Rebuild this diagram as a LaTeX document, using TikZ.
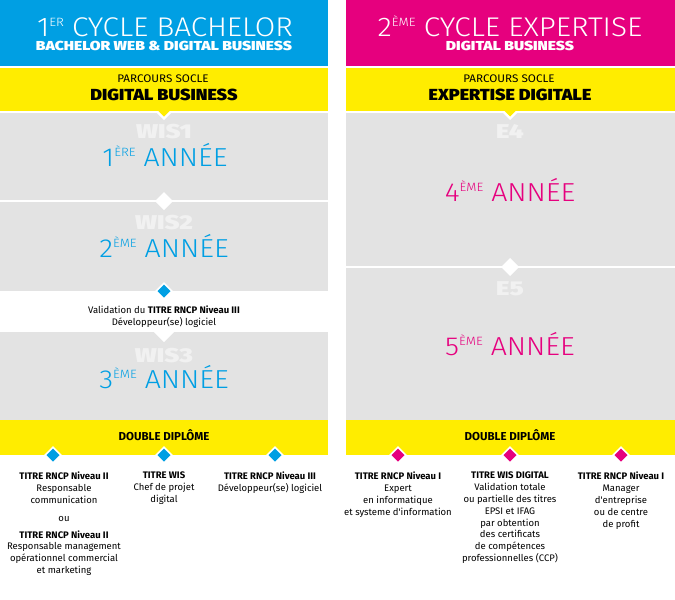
\documentclass[tikz,border=0pt]{standalone}
\usepackage{fontspec}
\setmainfont{Fira Sans}
\newfontfamily\flight{Fira Sans Light}[FakeStretch=1.1]
\newfontfamily\fregw{Fira Sans}[FakeStretch=1.06]
\newfontfamily\fblacka{Fira Sans Black}[FakeStretch=1.2]
\newfontfamily\fblackb{Fira Sans Black}[FakeStretch=1.12]
\newfontfamily\fblackc{Fira Sans Black}[FakeStretch=1.28]
\definecolor{cblue}{HTML}{009FE3}
\definecolor{cpink}{HTML}{E6007E}
\definecolor{cyel}{HTML}{FFED00}
\definecolor{cgray}{HTML}{E3E3E3}
\definecolor{wmgray}{HTML}{F1F1F1}
\newcommand\hsup[2]{\raisebox{#1}{\fontsize{12}{12}\selectfont #2}}
\newcommand\dmd[3]{%
  \fill[white] (#1-9,#2)--(#1,#2-9)--(#1+9,#2)--(#1,#2+9)--cycle;
  \fill[#3] (#1-6.5,#2)--(#1,#2-6.5)--(#1+6.5,#2)--(#1,#2+6.5)--cycle;}
\newcommand\wdmd[2]{%
  \fill[white] (#1-9,#2)--(#1,#2-9)--(#1+9,#2)--(#1,#2+9)--cycle;}
\newcommand\ptr[2]{%
  \fill[white] (#1-9,#2)--(#1+9,#2)--(#1,#2+9)--cycle;
  \fill[cyel] (#1-6.5,#2-1)--(#1+6.5,#2-1)--(#1,#2+5.5)--cycle;}
\tikzset{
 hdr/.style={anchor=base,text=white,font=\flight\fontsize{27}{27}\selectfont,inner sep=0,text depth=0pt},
 hsub/.style={anchor=base,text=white,font=\fblacka\fontsize{13}{13}\selectfont,inner sep=0,text height=9.5pt,text depth=0pt},
 parc/.style={anchor=base,font=\fregw\fontsize{11}{12}\selectfont,inner sep=0},
 socle/.style={anchor=base,font=\fblackb\fontsize{16}{16}\selectfont,inner sep=0},
 wm/.style={anchor=base,text=wmgray,font=\fblackc\fontsize{20}{20}\selectfont,inner sep=0},
 annee/.style={anchor=base,font=\flight\fontsize{26}{26}\selectfont,inner sep=0},
 dd/.style={anchor=base,font=\bfseries\fontsize{11.5}{12}\selectfont,inner sep=0},
 small/.style={anchor=north,align=center,font=\fontsize{9.5}{11.8}\selectfont,inner sep=0},
}
\begin{document}
\begin{tikzpicture}[x=1pt,y=-1pt]
\useasboundingbox[fill=white] (0,0) rectangle (675,600);
% ---------- left column ----------
\fill[cblue] (0,0) rectangle (328,66);
\fill[cyel] (0,68) rectangle (328,111);
\fill[cgray] (0,113) rectangle (328,200);
\fill[cgray] (0,202) rectangle (328,291);
\fill[cgray] (0,332) rectangle (328,420);
\fill[cyel] (0,420) rectangle (328,455);
\ptr{164}{111}
\wdmd{164}{201}
\dmd{164}{291}{cblue}
\fill[white] (154,332)--(174,332)--(164,342)--cycle;
\dmd{53}{455}{cblue}
\dmd{164}{455}{cblue}
\dmd{275}{455}{cblue}
% ---------- right column ----------
\fill[cpink] (346,0) rectangle (675,66);
\fill[cyel] (346,68) rectangle (675,111);
\fill[cgray] (346,113) rectangle (675,266);
\fill[cgray] (346,268) rectangle (675,420);
\fill[cyel] (346,420) rectangle (675,455);
\ptr{510}{111}
\wdmd{510}{267}
\dmd{398}{455}{cpink}
\dmd{510}{455}{cpink}
\dmd{621}{455}{cpink}
% ---------- left texts ----------
\node[hdr] (h1) at (165,36) {1\hsup{9.5pt}{ER} CYCLE BACHELOR};
\node[hsub] (h1s) at (164,50) {BACHELOR WEB \& DIGITAL BUSINESS};
\node[parc] (p1) at (163,82.5) {PARCOURS SOCLE};
\node[socle] (s1) at (164,100) {DIGITAL BUSINESS};
\node[wm] (w1) at (164,138) {WIS1};
\node[annee,text=cblue] (a1) at (165,166) {1\hsup{10pt}{ÈRE} ANNÉE};
\node[wm] (w2) at (164,229) {WIS2};
\node[annee,text=cblue] (a2) at (164,257) {2\hsup{10pt}{ÈME} ANNÉE};
\node[small] (val) at (164,306) {Validation du \textbf{TITRE RNCP Niveau III}\\Développeur(se) logiciel};
\node[wm] (w3) at (164,362) {WIS3};
\node[annee,text=cblue] (a3) at (164,388) {3\hsup{10pt}{ÈME} ANNÉE};
\node[dd] (dd1) at (164,440) {DOUBLE DIPLÔME};
\node[small] (t1) at (64,472) {\textbf{TITRE RNCP Niveau II}\\Responsable\\communication\\[6pt]ou\\[5pt]\textbf{TITRE RNCP Niveau II}\\Responsable management\\opérationnel commercial\\et marketing};
\node[small] (t2) at (164,472) {\textbf{TITRE WIS}\\Chef de projet\\digital};
\node[small] (t3) at (270,472) {\textbf{TITRE RNCP Niveau III}\\Développeur(se) logiciel};
% ---------- right texts ----------
\node[hdr] (h2) at (510,36) {2\hsup{9.5pt}{ÈME} CYCLE EXPERTISE};
\node[hsub] (h2s) at (510,50) {DIGITAL BUSINESS};
\node[parc] (p2) at (509,82.5) {PARCOURS SOCLE};
\node[socle] (s2) at (510,100) {EXPERTISE DIGITALE};
\node[wm] (e4) at (510,138) {E4};
\node[annee,text=cpink] (a4) at (510,201) {4\hsup{10pt}{ÈME} ANNÉE};
\node[wm] (e5) at (510,295) {E5};
\node[annee,text=cpink] (a5) at (510,355) {5\hsup{10pt}{ÈME} ANNÉE};
\node[dd] (dd2) at (510,440) {DOUBLE DIPLÔME};
\node[small] (r1) at (398,472) {\textbf{TITRE RNCP Niveau I}\\Expert\\en informatique\\et systeme d\textquotesingle information};
\node[small] (r2) at (510,472) {\textbf{TITRE WIS DIGITAL}\\Validation totale\\ou partielle des titres\\EPSI et IFAG\\par obtention\\des certificats\\de compétences\\professionnelles (CCP)};
\node[small] (r3) at (621,472) {\textbf{TITRE RNCP Niveau I}\\Manager\\d\textquotesingle entreprise\\ou de centre\\de profit};
\end{tikzpicture}
\end{document}
